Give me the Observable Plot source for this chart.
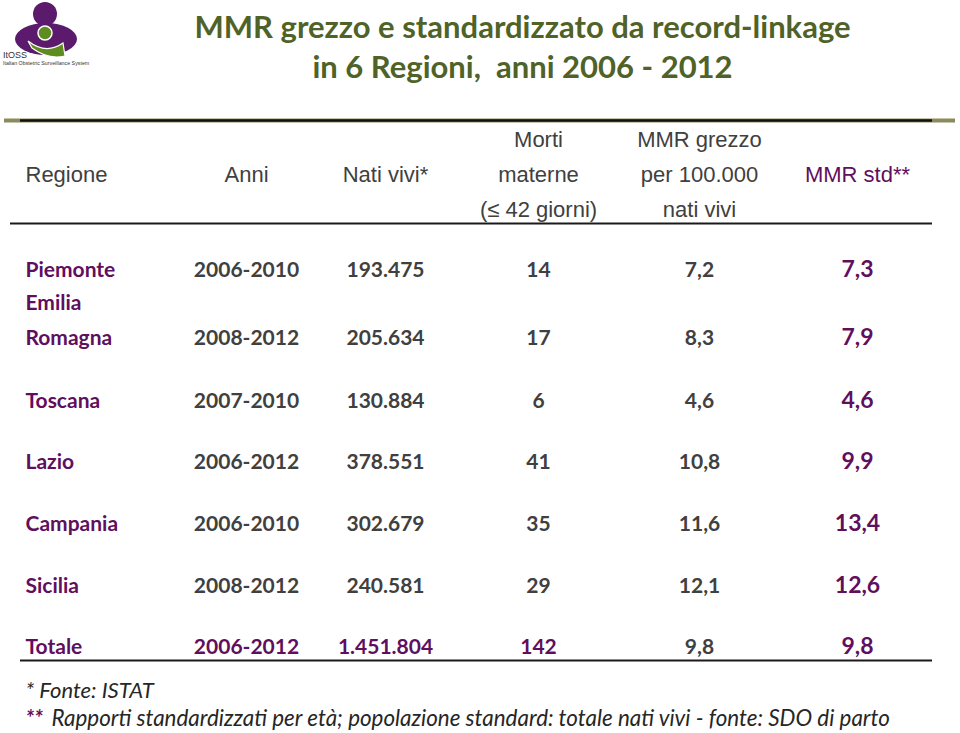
<!DOCTYPE html>
<html>
<head>
<meta charset="utf-8">
<script src="https://cdn.jsdelivr.net/npm/d3@7"></script>
<script src="https://cdn.jsdelivr.net/npm/@observablehq/plot@0.6"></script>
<style>
  body { margin: 0; background: #fff; }
  #wrap { position: relative; width: 960px; height: 733px; overflow: hidden; }
  #logo { position: absolute; left: 0; top: 0; }
  #chart svg { display: block; }
</style>
</head>
<body>
<div id="wrap">
  <div id="chart"></div>
  <svg id="logo" width="100" height="70" viewBox="0 0 100 70">
    <ellipse cx="46" cy="39" rx="31" ry="16" fill="#5B1A6C"/>
    <circle cx="45" cy="14" r="12" fill="#5B1A6C"/>
    <path d="M28,41 Q46,55 63,43 L65,56 Q48,60 32,48 Z" fill="#5E8C1F" stroke="#fff" stroke-width="1.2"/>
    <circle cx="45" cy="33" r="7" fill="#5E8C1F" stroke="#fff" stroke-width="1.5"/>
    <text x="3" y="58" font-family="Liberation Sans" font-size="9" fill="#333">ItOSS</text>
    <text x="3" y="65" font-family="Liberation Sans" font-size="5.3" fill="#333">Italian Obstetric Surveillance System</text>
  </svg>
</div>
<script>
// ---- data ----
const titolo = "MMR grezzo e standardizzato da record-linkage\nin 6 Regioni,  anni 2006 - 2012";
const colonne = ["Regione", "Anni", "Nati vivi*", "Morti\nmaterne\n(≤ 42 giorni)", "MMR grezzo\nper 100.000\nnati vivi", "MMR std**"];
const regioni = ["Piemonte", "Emilia\nRomagna", "Toscana", "Lazio", "Campania", "Sicilia", "Totale"];
const anni = ["2006-2010", "2008-2012", "2007-2010", "2006-2012", "2006-2010", "2008-2012", "2006-2012"];
const natiVivi = [193475, 205634, 130884, 378551, 302679, 240581, 1451804];
const mortiMaterne = [14, 17, 6, 41, 35, 29, 142];
const mmrGrezzo = [7.2, 8.3, 4.6, 10.8, 11.6, 12.1, 9.8];
const mmrStd = [7.3, 7.9, 4.6, 9.9, 13.4, 12.6, 9.8];
const nota1 = "* Fonte: ISTAT";
const nota2stelle = "**";
const nota2 = "Rapporti standardizzati per età; popolazione standard: totale nati vivi - fonte: SDO di parto";

// ---- formatting ----
const it = d3.formatLocale({decimal: ",", thousands: ".", grouping: [3], currency: ["€", ""]});
const fmtInt = it.format(",d");
const fmt1 = it.format(".1f");

const purple = "#5F0F5E";
const gray = "#404040";
const green = "#4F6228";

const isTot = i => regioni[i] === "Totale";

// table cells built from the arrays
const valueCells = [];
regioni.forEach((r, i) => {
  valueCells.push({row: i, col: 1, text: anni[i], fill: isTot(i) ? purple : gray, size: 21});
  valueCells.push({row: i, col: 2, text: fmtInt(natiVivi[i]), fill: isTot(i) ? purple : gray, size: 21});
  valueCells.push({row: i, col: 3, text: fmtInt(mortiMaterne[i]), fill: isTot(i) ? purple : gray, size: 21});
  valueCells.push({row: i, col: 4, text: fmt1(mmrGrezzo[i]), fill: gray, size: 21});
  valueCells.push({row: i, col: 5, text: fmt1(mmrStd[i]), fill: purple, size: 23});
});
const regionCells = regioni.map((r, i) => ({row: i, col: 0, text: r}));
const headerCells = colonne.map((c, j) => ({row: -1, col: j, text: c, fill: j === 5 ? purple : gray}));

const body = "Lato, 'Open Sans', sans-serif";
const head = "'Liberation Sans', Arial, sans-serif";

const chart = Plot.plot({
  width: 960,
  height: 733,
  margin: 0,
  style: {background: "#fff", overflow: "visible"},
  x: {type: "linear", domain: [0, 1, 2, 3, 4, 5], range: [25, 246, 385, 538, 699, 857], axis: null},
  y: {type: "linear", domain: [-1, 0, 1, 2, 3, 4, 5, 6], range: [170, 276, 344, 407, 468, 530, 592, 653], axis: null},
  color: {type: "identity"},
  marks: [
    // rules
    Plot.ruleY([-1], {dy: -50, stroke: "#8C8A5C", strokeWidth: 4, insetLeft: 4, insetRight: 5}),
    Plot.ruleY([-1], {dy: -50, stroke: "#111", strokeWidth: 2.5, insetLeft: 20, insetRight: 28}),
    Plot.ruleY([-1], {dy: 53, stroke: "#1a1a1a", strokeWidth: 2, insetLeft: 10, insetRight: 28}),
    Plot.ruleY([6], {dy: 7, stroke: "#1a1a1a", strokeWidth: 2, insetLeft: 20, insetRight: 28}),
    // title
    Plot.text([titolo], {frameAnchor: "top", lineAnchor: "top", lineHeight: 1.3, dx: 42, dy: 9,
      fontSize: 31, fontWeight: "bold", fontFamily: body, fill: green}),
    // header
    Plot.text(headerCells.filter(d => d.col === 0), {x: "col", y: "row", text: "text", fill: "fill",
      textAnchor: "start", lineAnchor: "middle", lineHeight: 1.59, fontSize: 22, fontFamily: head}),
    Plot.text(headerCells.filter(d => d.col > 0), {x: "col", y: "row", text: "text", fill: "fill",
      textAnchor: "middle", lineAnchor: "middle", lineHeight: 1.59, fontSize: 22, fontFamily: head}),
    // region names
    Plot.text(regionCells, {x: "col", y: "row", text: "text", fill: purple, textAnchor: "start",
      lineAnchor: "bottom", lineHeight: 1.62, fontSize: 21, fontWeight: "bold", fontFamily: body}),
    // values
    Plot.text(valueCells, {x: "col", y: "row", text: "text", fill: "fill", fontSize: "size",
      textAnchor: "middle", lineAnchor: "bottom", fontWeight: "bold", fontFamily: body}),
    // notes
    Plot.text([nota1], {frameAnchor: "bottom-left", lineAnchor: "bottom", dx: 25, dy: -36,
      fontSize: 22, fontStyle: "italic", fontFamily: body, fill: "#262626"}),
    Plot.text([nota2stelle], {frameAnchor: "bottom-left", lineAnchor: "bottom", dx: 25, dy: -8,
      fontSize: 22, fontStyle: "italic", fontWeight: "bold", fontFamily: body, fill: purple}),
    Plot.text([nota2], {frameAnchor: "bottom-left", lineAnchor: "bottom", dx: 51, dy: -8,
      fontSize: 22.4, fontStyle: "italic", fontFamily: body, fill: "#262626"})
  ]
});
document.getElementById("chart").appendChild(chart);
</script>
</body>
</html>
